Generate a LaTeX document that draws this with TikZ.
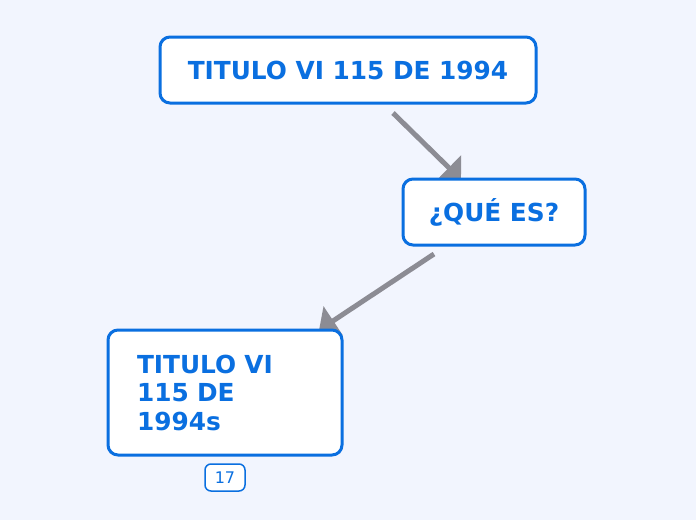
\documentclass[tikz,border=0pt]{standalone}
\usepackage{fontspec}
\setmainfont{DejaVu Sans}
\usetikzlibrary{arrows.meta,backgrounds}
\definecolor{bg}{HTML}{F2F5FE}
\definecolor{mblue}{HTML}{0A6FE0}
\definecolor{agray}{HTML}{8C8C94}
\begin{document}
\begin{tikzpicture}[x=1pt,y=-1pt,
  box/.style={draw=mblue, line width=3pt, rounded corners=10pt, fill=white, text=mblue,
    font=\fontsize{24.8}{28.5}\selectfont\bfseries, inner sep=0pt},
  conn/.style={draw=agray, line width=5pt, -{Triangle[length=17pt,width=34pt]}, shorten >=-3pt},
  badge/.style={draw=mblue, line width=1.5pt, rounded corners=6pt, fill=white, text=mblue,
    font=\fontsize{16}{18}\selectfont, inner sep=0pt, minimum width=40pt, minimum height=27pt}]
\useasboundingbox (0,0) rectangle (696,520);
\node[box, minimum width=376pt, minimum height=66pt] (n1) at (348,70) {TITULO VI 115 DE 1994};
\node[box, minimum width=182pt, minimum height=66pt] (n2) at (494,212) {¿QUÉ ES?};
\node[box, minimum width=234pt, minimum height=125pt, align=left, text width=176pt, inner xsep=29pt] (n3) at (225,392.5) {TITULO VI\\115 DE\\1994s};
\node[badge] (b) at (225,477.5) {17};
\coordinate (s1) at (393,113);
\coordinate (s2) at (434,254);
\begin{scope}[on background layer]
\fill[bg] (0,0) rectangle (696,520);
\draw[conn] (s1) -- (n2);
\draw[conn] (s2) -- (n3);
\end{scope}
\end{tikzpicture}
\end{document}
